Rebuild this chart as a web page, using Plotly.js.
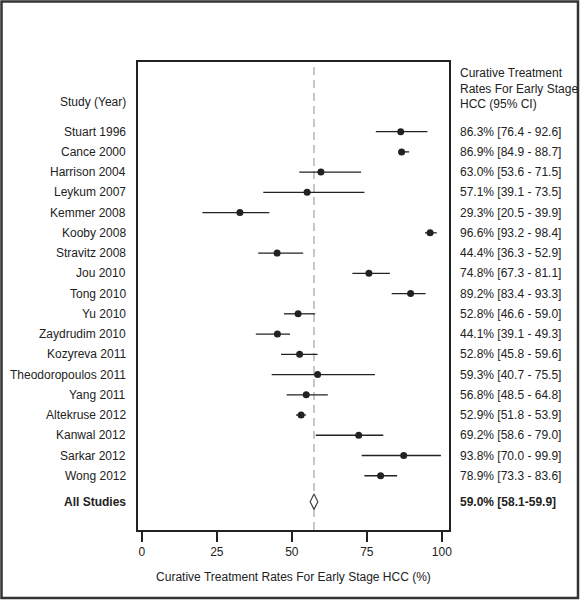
<!DOCTYPE html>
<html>
<head>
<meta charset="utf-8">
<script src="https://cdn.plot.ly/plotly-3.0.1.min.js"></script>
<style>
  html, body { margin: 0; padding: 0; background: #fff; }
  #chart { width: 580px; height: 600px; }
</style>
</head>
<body>
<div id="chart"></div>
<script>
// Study names (top to bottom)
const studies = ['Stuart 1996', 'Cance 2000', 'Harrison 2004', 'Leykum 2007', 'Kemmer 2008',
  'Kooby 2008', 'Stravitz 2008', 'Jou 2010', 'Tong 2010', 'Yu 2010', 'Zaydrudim 2010',
  'Kozyreva 2011', 'Theodoropoulos 2011', 'Yang 2011', 'Altekruse 2012', 'Kanwal 2012',
  'Sarkar 2012', 'Wong 2012'];

// Point estimates and CI ends as drawn in the plot (%)
const estPlot = [86.3, 86.6, 59.7, 55.1, 32.7, 96.1, 45.1, 75.7, 89.6, 52.1, 45.2, 52.6, 58.6, 54.8, 53.1, 72.3, 87.3, 79.6];
const ciLowPlot = [78.0, 85.5, 52.5, 40.5, 20.2, 94.4, 38.8, 70.2, 83.3, 47.4, 38.0, 46.4, 43.3, 48.3, 51.4, 58.0, 73.3, 74.2];
const ciHighPlot = [95.2, 89.1, 73.1, 74.2, 42.5, 98.3, 53.8, 82.7, 94.6, 57.8, 49.4, 58.6, 77.7, 62.0, 54.7, 80.5, 99.7, 85.1];

// Values as printed in the right-hand column (%)
const rateLabel = [86.3, 86.9, 63.0, 57.1, 29.3, 96.6, 44.4, 74.8, 89.2, 52.8, 44.1, 52.8, 59.3, 56.8, 52.9, 69.2, 93.8, 78.9];
const lowLabel = [76.4, 84.9, 53.6, 39.1, 20.5, 93.2, 36.3, 67.3, 83.4, 46.6, 39.1, 45.8, 40.7, 48.5, 51.8, 58.6, 70.0, 73.3];
const highLabel = [92.6, 88.7, 71.5, 73.5, 39.9, 98.4, 52.9, 81.1, 93.3, 59.0, 49.3, 59.6, 75.5, 64.8, 53.9, 79.0, 99.9, 83.6];

// Pooled estimate
const summaryName = 'All Studies';
const summaryPlot = 57.4;
const summaryRate = 59.0;
const summaryLow = 58.1;
const summaryHigh = 59.9;

// Tick labels
const xTicks = [0, 25, 50, 75, 100];

// Row layout (row index units)
const rowPos = studies.map((s, i) => i);
const summaryPos = studies.length - 1 + 1.28;
const headerPos = -1.47;
const rightHeaderPos = -2.11;

const FONT = 'Liberation Sans, Arial, Helvetica, sans-serif';
const INK = '#222';

const traces = [
  {
    type: 'scatter', mode: 'markers',
    x: estPlot, y: rowPos,
    marker: { color: INK, size: 7, symbol: 'circle' },
    error_x: {
      type: 'data', symmetric: false,
      array: ciHighPlot.map((h, i) => h - estPlot[i]),
      arrayminus: estPlot.map((e, i) => e - ciLowPlot[i]),
      color: INK, thickness: 1.3, width: 0
    },
    showlegend: false, hoverinfo: 'skip', cliponaxis: false
  },
  {
    type: 'scatter', mode: 'markers',
    x: [summaryPlot], y: [summaryPos],
    marker: { color: '#fff', size: 11, symbol: 'diamond-tall', line: { color: '#444', width: 1.2 } },
    showlegend: false, hoverinfo: 'skip', cliponaxis: false
  }
];

const fmt = v => v.toFixed(1);
const annotations = [];
studies.forEach((s, i) => {
  annotations.push({ xref: 'paper', yref: 'y', x: -0.032, y: rowPos[i], text: s,
    xanchor: 'right', yanchor: 'middle', showarrow: false, font: { family: FONT, size: 12, color: INK } });
  annotations.push({ xref: 'paper', yref: 'y', x: 1.028, y: rowPos[i],
    text: fmt(rateLabel[i]) + '% [' + fmt(lowLabel[i]) + ' - ' + fmt(highLabel[i]) + ']',
    xanchor: 'left', yanchor: 'middle', showarrow: false, font: { family: FONT, size: 12, color: INK } });
});
annotations.push({ xref: 'paper', yref: 'y', x: -0.032, y: summaryPos, text: '<b>' + summaryName + '</b>',
  xanchor: 'right', yanchor: 'middle', showarrow: false, font: { family: FONT, size: 12, color: INK } });
annotations.push({ xref: 'paper', yref: 'y', x: 1.028, y: summaryPos,
  text: '<b>' + fmt(summaryRate) + '% [' + fmt(summaryLow) + '-' + fmt(summaryHigh) + ']</b>',
  xanchor: 'left', yanchor: 'middle', showarrow: false, font: { family: FONT, size: 12, color: INK } });
annotations.push({ xref: 'paper', yref: 'y', x: -0.032, y: headerPos, text: 'Study (Year)',
  xanchor: 'right', yanchor: 'middle', showarrow: false, font: { family: FONT, size: 12, color: INK } });
annotations.push({ xref: 'paper', yref: 'y', x: 1.028, y: rightHeaderPos,
  text: 'Curative Treatment<br>Rates For Early Stage<br>HCC (95% CI)', align: 'left',
  xanchor: 'left', yanchor: 'middle', showarrow: false, font: { family: FONT, size: 12, color: INK } });

const layout = {
  width: 580, height: 600,
  margin: { l: 138, r: 131, t: 62, b: 70 },
  paper_bgcolor: '#fff', plot_bgcolor: '#fff',
  font: { family: FONT, size: 12, color: INK },
  showlegend: false,
  xaxis: {
    range: [-1.27, 102.4], fixedrange: true,
    tickvals: xTicks, ticktext: xTicks.map(String),
    ticks: 'outside', ticklen: 10, tickwidth: 2, tickcolor: INK,
    tickfont: { family: FONT, size: 12, color: INK },
    showgrid: false, zeroline: false,
    showline: true, mirror: true, linecolor: INK, linewidth: 2,
    title: { text: 'Curative Treatment Rates For Early Stage HCC (%)', font: { family: FONT, size: 12, color: INK }, standoff: 14 }
  },
  yaxis: {
    range: [19.68, -3.44], fixedrange: true,
    showticklabels: false, ticks: '', showgrid: false, zeroline: false,
    showline: true, mirror: true, linecolor: INK, linewidth: 2
  },
  shapes: [
    { type: 'line', xref: 'x', yref: 'paper', x0: summaryPlot, x1: summaryPlot, y0: 0, y1: 1,
      line: { color: '#aaa', width: 1.3, dash: '8px,5px' }, layer: 'below' },
    { type: 'rect', xref: 'paper', yref: 'paper',
      x0: (1.5 - 138) / 311, x1: (578 - 138) / 311, y0: (530 - 598) / 468, y1: (530 - 1.5) / 468,
      line: { color: '#333', width: 2.5 }, fillcolor: 'rgba(0,0,0,0)', layer: 'above' }
  ],
  annotations: annotations
};

Plotly.newPlot('chart', traces, layout, { displayModeBar: false, staticPlot: true });
</script>
</body>
</html>
